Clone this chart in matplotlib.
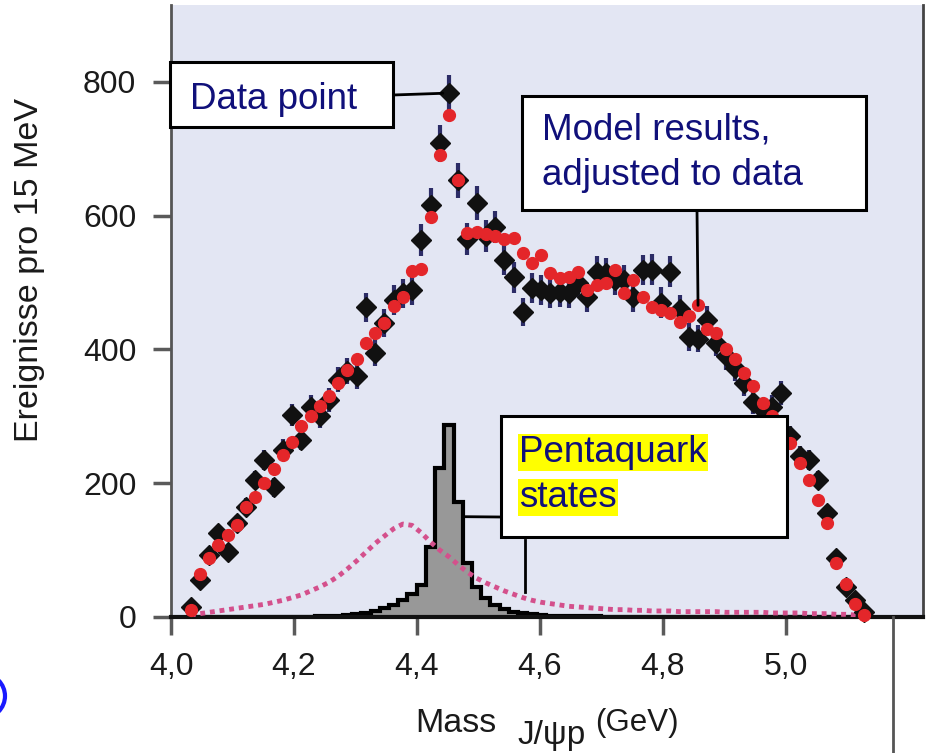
import numpy as np
import matplotlib
matplotlib.use('Agg')
import matplotlib.pyplot as plt
from matplotlib.patches import Rectangle, Circle
from matplotlib.lines import Line2D

W, H = 936, 753

# 15 MeV bins, J/psi p mass (GeV)
bins = np.arange(4.032, 5.13, 0.015)

# data points (black diamonds)
data = [15, 55, 92, 125, 97, 140, 165, 205, 235, 194,
        250, 302, 265, 314, 300, 325, 355, 368, 360, 463,
        395, 439, 474, 484, 489, 563, 616, 708, 783, 653,
        565, 619, 570, 583, 534, 508, 456, 492, 489, 484,
        486, 484, 500, 478, 516, 514, 504, 504, 478, 519,
        519, 470, 516, 460, 419, 416, 444, 410, 390, 372,
        350, 321, 310, 314, 335, 270, 240, 235, 205, 155,
        88, 45, 25, 8]
err = [4, 8, 10, 11, 10, 12, 13, 14, 15, 14,
       16, 17, 16, 18, 17, 18, 19, 19, 19, 22,
       20, 21, 22, 22, 22, 24, 25, 27, 28, 26,
       24, 25, 24, 24, 23, 23, 21, 22, 22, 22,
       22, 22, 22, 22, 23, 22, 22, 22, 22, 22,
       23, 23, 23, 22, 21, 20, 21, 20, 20, 19,
       19, 18, 18, 18, 18, 16, 15, 15, 14, 12,
       9, 7, 5, 3]

# model results (red dots)
model = [10, 65, 88, 108, 122, 138, 165, 180, 200, 222,
         242, 262, 285, 300, 315, 330, 350, 370, 385, 410,
         425, 440, 465, 478, 518, 520, 598, 690, 750, 653,
         574, 575, 572, 570, 565, 566, 544, 529, 541, 514,
         507, 508, 516, 489, 496, 499, 519, 484, 504, 478,
         463, 459, 454, 441, 450, 466, 430, 424, 400, 385,
         365, 345, 320, 300, 280, 260, 230, 205, 175, 140,
         80, 50, 20, 3]

# broad pentaquark state (dotted)
broad = [3, 5, 7, 9, 11, 13, 15, 17, 19, 22,
         25, 29, 33, 39, 45, 52, 61, 72, 84, 97,
         110, 121, 132, 139, 137, 126, 112, 100, 90, 78,
         67, 58, 51, 45, 39, 34, 29, 25, 22, 20,
         18, 16, 15, 14, 13, 12, 11, 11, 10, 10,
         9, 9, 9, 8, 8, 8, 8, 8, 7, 7,
         7, 7, 7, 6, 6, 6, 6, 5, 5, 5,
         4, 4, 3, 2]

# narrow pentaquark state (grey histogram)
narrow = [0, 0, 0, 0, 0, 0, 0, 0, 0, 0,
          0, 0, 0, 0, 1, 1, 2, 3, 4, 6,
          9, 13, 18, 25, 35, 48, 105, 223, 287, 172,
          81, 45, 28, 18, 12, 8, 6, 4, 3, 2,
          2, 1, 1, 1, 1, 0, 0, 0, 0, 0,
          0, 0, 0, 0, 0, 0, 0, 0, 0, 0,
          0, 0, 0, 0, 0, 0, 0, 0, 0, 0,
          0, 0, 0, 0]

xticks = [4.0, 4.2, 4.4, 4.6, 4.8, 5.0]
xlabels = ['4,0', '4,2', '4,4', '4,6', '4,8', '5,0']
yticks = [0, 200, 400, 600, 800]

plt.rcParams['font.family'] = ['Liberation Sans', 'DejaVu Sans']
navy = '#10107a'
ink = '#1a1a1a'

fig = plt.figure(figsize=(W / 100, H / 100), dpi=100)
ax = fig.add_axes([171 / W, 136 / H, 752 / W, 612 / H])
ax.set_facecolor('#e3e6f3')
ax.set_xlim(4.0, 5.2228)
ax.set_ylim(0, 915)

edges = np.append(bins - 0.0075, bins[-1] + 0.0075)
ax.stairs(narrow, edges, fill=True, color='#989898', zorder=2)
ax.stairs(narrow, edges, color='black', lw=3, zorder=2)
ax.plot(bins, broad, linestyle=(0, (1, 1.0)), color='#d4508c', lw=3.5, zorder=3)

ax.errorbar(bins, data, yerr=err, fmt='D', color='#111111', ecolor='#2c2c66',
            elinewidth=3, markersize=10, capsize=0, zorder=4, clip_on=False)
ax.plot(bins, model, 'o', color='#e4262a', markersize=8.5, zorder=5, clip_on=False)

ax.set_xticks(xticks)
ax.set_xticklabels(xlabels)
ax.set_yticks(yticks)
ax.tick_params(length=13, width=2.5, color='#5a5a5a', labelsize=23, pad=12,
               labelcolor=ink)
ax.spines['top'].set_visible(False)
ax.spines['left'].set_color('#555555')
ax.spines['left'].set_linewidth(2)
ax.spines['right'].set_color('#444444')
ax.spines['right'].set_linewidth(2)
ax.spines['bottom'].set_color('#111111')
ax.spines['bottom'].set_linewidth(3)

fig.text(30 / W, 1 - 270 / H, 'Ereignisse pro 15 MeV', rotation=90,
         ha='center', va='center', fontsize=24.5, color=ink)
fig.text(415 / W, 1 - 732 / H, 'Mass', fontsize=24.5, color=ink)
fig.text(517 / W, 1 - 744 / H, 'J/\u03c8p', fontsize=24, color=ink)
fig.text(595 / W, 1 - 731 / H, '(GeV)', fontsize=22.5, color=ink)


def box(x0, y0, x1, y1):
    fig.add_artist(Rectangle((x0 / W, 1 - y1 / H), (x1 - x0) / W, (y1 - y0) / H,
                             transform=fig.transFigure, fc='white', ec='black',
                             lw=2.2, zorder=10))


def fline(x0, y0, x1, y1):
    fig.add_artist(Line2D([x0 / W, x1 / W], [1 - y0 / H, 1 - y1 / H], color='black',
                          lw=2, zorder=9))


def connect(xy, px, py):
    ax.annotate('', xy=xy, xycoords='data', xytext=(px, H - py),
                textcoords='figure pixels',
                arrowprops=dict(arrowstyle='-', color='black', lw=2,
                                shrinkA=0, shrinkB=0), zorder=9)


# Data point label
box(170, 62, 393, 127)
fig.text(190 / W, 1 - 109 / H, 'Data point', fontsize=26.5, color=navy, zorder=11)
connect((bins[28] - 0.01, data[28]), 393, 95)

# Model label
box(522, 96, 866, 210)
fig.text(542 / W, 1 - 140 / H, 'Model results,', fontsize=26.5, color=navy, zorder=11)
fig.text(542 / W, 1 - 185 / H, 'adjusted to data', fontsize=26.5, color=navy, zorder=11)
connect((bins[55], model[55]), 697, 210)

# Pentaquark label
box(501, 416, 787, 537)
hl = dict(facecolor='#ffff00', edgecolor='none', pad=1)
fig.text(519 / W, 1 - 462 / H, 'Pentaquark', fontsize=26.5, color=navy, zorder=11, bbox=hl)
fig.text(519 / W, 1 - 507 / H, 'states', fontsize=26.5, color=navy, zorder=11, bbox=hl)
connect((edges[30], 150), 501, 517)
fline(525, 540, 525, 592)

# stray marks from the source image
fig.add_artist(Line2D([893 / W, 893 / W], [1 - 617 / H, 0], color='#555555', lw=2))
fig.add_artist(Circle((-17 / 100, (H - 696) / 100), 0.22, transform=fig.dpi_scale_trans,
                      fill=False, ec='#1a1aff', lw=3))

fig.savefig('out.png', dpi=100)
